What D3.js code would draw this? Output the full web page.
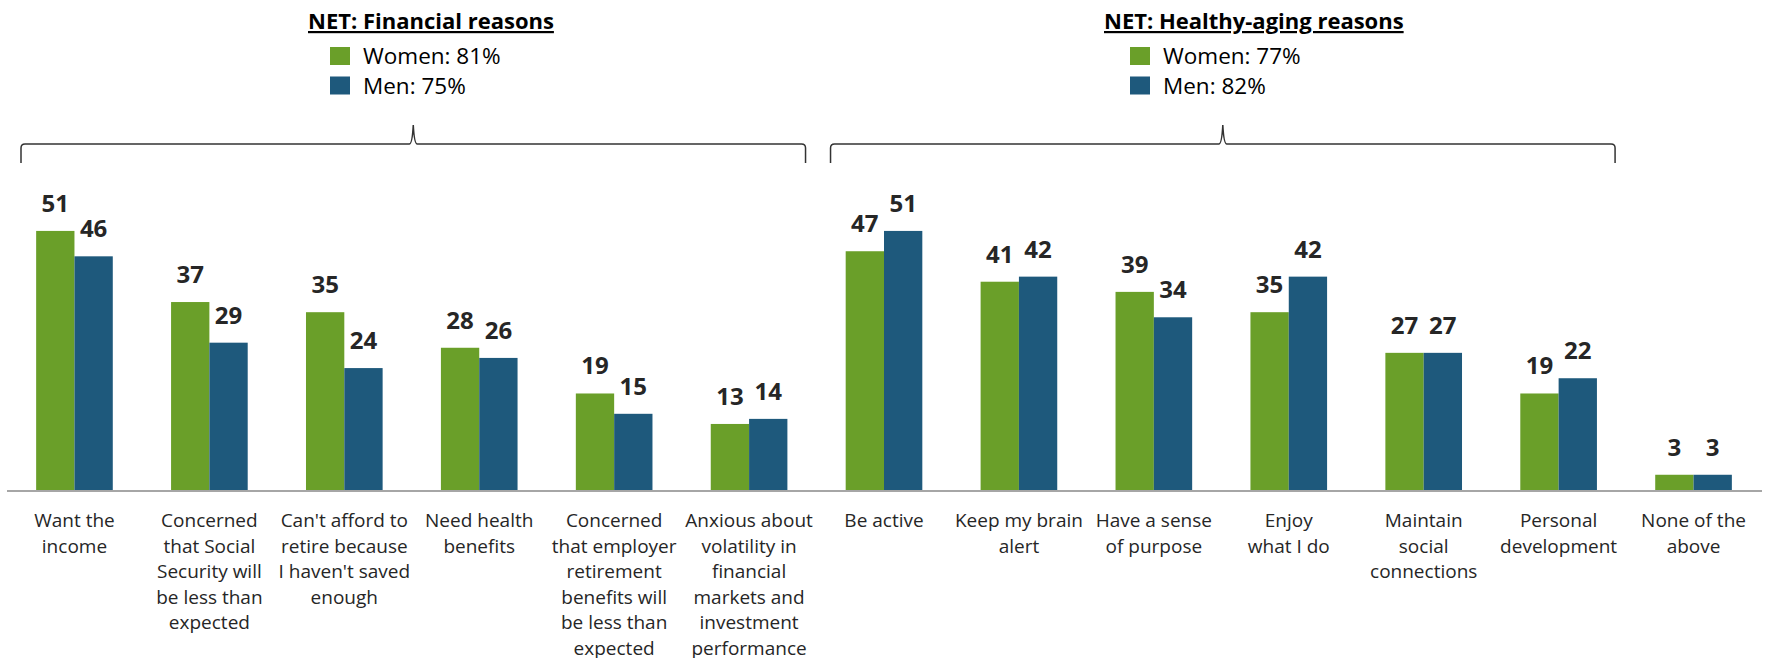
<!DOCTYPE html>
<html>
<head>
<meta charset="utf-8">
<script src="https://cdn.jsdelivr.net/npm/d3@7"></script>
<style>
  body { margin: 0; background: #fff; }
  svg text { font-family: "Open Sans", sans-serif; }
</style>
</head>
<body>
<div id="chart"></div>
<script>
const width = 1765, height = 658;

// reasons (label lines split with \n)
const categories = [
  "Want the\nincome",
  "Concerned\nthat Social\nSecurity will\nbe less than\nexpected",
  "Can't afford to\nretire because\nI haven't saved\nenough",
  "Need health\nbenefits",
  "Concerned\nthat employer\nretirement\nbenefits will\nbe less than\nexpected",
  "Anxious about\nvolatility in\nfinancial\nmarkets and\ninvestment\nperformance",
  "Be active",
  "Keep my brain\nalert",
  "Have a sense\nof purpose",
  "Enjoy\nwhat I do",
  "Maintain\nsocial\nconnections",
  "Personal\ndevelopment",
  "None of the\nabove"
];
const series = ["Women", "Men"];
const women = [51, 37, 35, 28, 19, 13, 47, 41, 39, 35, 27, 19, 3];
const men   = [46, 29, 24, 26, 15, 14, 51, 42, 34, 42, 27, 22, 3];

// NET groups
const groupTitles = ["NET: Financial reasons", "NET: Healthy-aging reasons"];
const groupWomen = [81, 77];
const groupMen = [75, 82];
const groupFirst = [0, 6];
const groupLast = [5, 11];

const colors = { Women: "#6a9f29", Men: "#1e597c" };

const svg = d3.select("#chart")
  .append("svg")
  .attr("width", width)
  .attr("height", height);

const baseline = 490;

const x0 = d3.scaleBand()
  .domain(categories)
  .range([7, 1761])
  .paddingInner(0.432)
  .paddingOuter(0.216);

const x1 = d3.scaleBand()
  .domain(series)
  .range([0, x0.bandwidth()]);

const y = d3.scaleLinear()
  .domain([0, 60])
  .range([baseline, baseline - 60 * 5.08]);

const rows = categories.map((c, i) => ({ cat: c, Women: women[i], Men: men[i] }));

const groups = svg.append("g")
  .selectAll("g")
  .data(rows)
  .join("g")
  .attr("transform", d => `translate(${x0(d.cat)},0)`);

groups.selectAll("rect")
  .data(d => series.map(s => ({ key: s, value: d[s] })))
  .join("rect")
  .attr("x", d => x1(d.key))
  .attr("y", d => y(d.value))
  .attr("width", x1.bandwidth())
  .attr("height", d => y(0) - y(d.value))
  .attr("fill", d => colors[d.key]);

groups.selectAll("text.val")
  .data(d => series.map(s => ({ key: s, value: d[s] })))
  .join("text")
  .attr("class", "val")
  .attr("x", d => x1(d.key) + x1.bandwidth() / 2)
  .attr("y", d => y(d.value) - 19)
  .attr("text-anchor", "middle")
  .style("font-size", "24px")
  .style("font-weight", "bold")
  .style("fill", "#262626")
  .text(d => d.value);

// axis line
svg.append("line")
  .attr("x1", 7).attr("x2", 1762)
  .attr("y1", baseline + 1).attr("y2", baseline + 1)
  .attr("stroke", "#a6a6a6")
  .attr("stroke-width", 2);

// category labels
svg.append("g")
  .selectAll("text")
  .data(categories)
  .join("text")
  .attr("x", d => x0(d) + x0.bandwidth() / 2)
  .attr("y", 527)
  .attr("text-anchor", "middle")
  .style("font-size", "19px")
  .style("fill", "#262626")
  .each(function (d) {
    const t = d3.select(this);
    d.split("\n").forEach((line, i) => {
      t.append("tspan")
        .attr("x", x0(d) + x0.bandwidth() / 2)
        .attr("dy", i === 0 ? 0 : 25.5)
        .text(line);
    });
  });

// braces
const braceY = 144;
groupTitles.forEach((title, g) => {
  const step = x0.step();
  const left = x0(categories[groupFirst[g]]) - x0.paddingOuter() * step + 14;
  const right = x0(categories[groupLast[g]]) + x0.bandwidth() + x0.paddingOuter() * step - 11;
  const mid = (left + right) / 2;
  const p = d3.path();
  p.moveTo(left, braceY + 19);
  p.lineTo(left, braceY + 4);
  p.quadraticCurveTo(left, braceY, left + 4, braceY);
  p.lineTo(mid - 4, braceY);
  p.quadraticCurveTo(mid - 1, braceY, mid, braceY - 19);
  p.quadraticCurveTo(mid + 1, braceY, mid + 4, braceY);
  p.lineTo(right - 4, braceY);
  p.quadraticCurveTo(right, braceY, right, braceY + 4);
  p.lineTo(right, braceY + 19);
  svg.append("path")
    .attr("d", p.toString())
    .attr("fill", "none")
    .attr("stroke", "#333")
    .attr("stroke-width", 1.5);
});

// NET headers + legends
const headerX = [308, 1104];
const legendX = [330, 1130];
groupTitles.forEach((title, g) => {
  svg.append("text")
    .attr("x", headerX[g])
    .attr("y", 29)
    .style("font-size", "22px")
    .style("font-weight", "bold")
    .style("text-decoration", "underline")
    .style("fill", "#000")
    .text(title);

  const items = [
    { key: "Women", text: `Women: ${groupWomen[g]}%` },
    { key: "Men", text: `Men: ${groupMen[g]}%` }
  ];
  items.forEach((it, i) => {
    svg.append("rect")
      .attr("x", legendX[g])
      .attr("y", 47 + i * 29.5)
      .attr("width", 20)
      .attr("height", 18)
      .attr("fill", colors[it.key]);
    svg.append("text")
      .attr("x", legendX[g] + 33)
      .attr("y", 64 + i * 29.5)
      .style("font-size", "22.5px")
      .style("fill", "#000")
      .text(it.text);
  });
});
</script>
</body>
</html>
